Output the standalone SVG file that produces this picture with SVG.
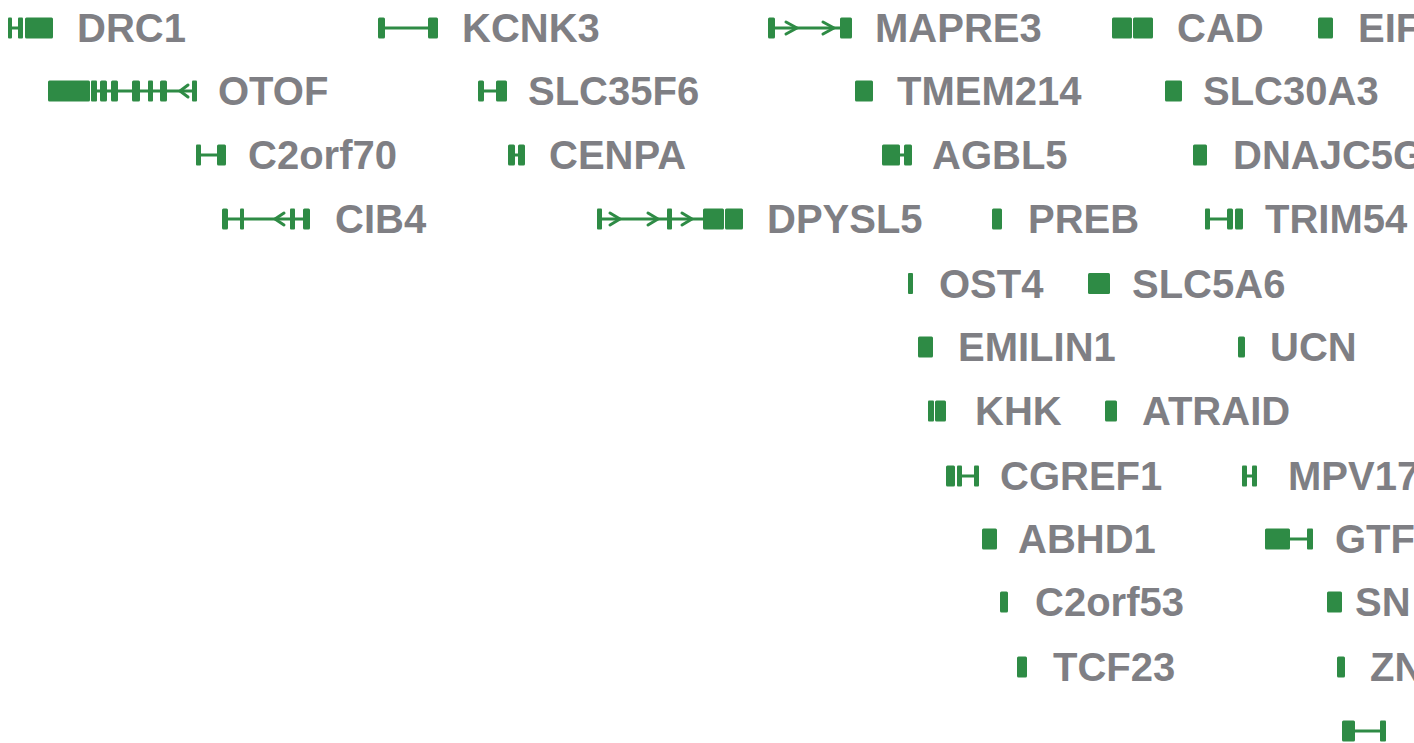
<svg xmlns="http://www.w3.org/2000/svg" width="1414" height="743" viewBox="0 0 1414 743">
<style>
.e{fill:#2e8b45}
.l{stroke:#2e8b45;stroke-width:3;fill:none}
.c{stroke:#2e8b45;stroke-width:3;fill:none;stroke-linecap:round;stroke-linejoin:round}
text{font-family:"Liberation Sans",Arial,sans-serif;font-weight:bold;font-size:40px;fill:#7f7f84}
</style>
<rect width="1414" height="743" fill="#ffffff"/>
<g id="connectors">
<line class="l" x1="11" y1="28" x2="18" y2="28"/>
<line class="l" x1="97" y1="91" x2="192" y2="91"/>
<polyline class="c" points="188,85 180,91 188,97"/>
<line class="l" x1="201" y1="155" x2="217" y2="155"/>
<line class="l" x1="228" y1="219" x2="303" y2="219"/>
<polyline class="c" points="284,213 275,219 284,225"/>
<line class="l" x1="602" y1="219" x2="703" y2="219"/>
<polyline class="c" points="610,213 620,219 610,225"/>
<polyline class="c" points="648,213 658,219 648,225"/>
<polyline class="c" points="682,213 692,219 682,225"/>
<line class="l" x1="385" y1="28" x2="428" y2="28"/>
<line class="l" x1="775" y1="28" x2="840" y2="28"/>
<polyline class="c" points="786,22 797,28 786,34"/>
<polyline class="c" points="823,22 834,28 823,34"/>
<line class="l" x1="484" y1="91" x2="496" y2="91"/>
<line class="l" x1="515" y1="155" x2="518" y2="155"/>
<line class="l" x1="900" y1="155" x2="904" y2="155"/>
<line class="l" x1="1210" y1="219" x2="1227" y2="219"/>
<line class="l" x1="961" y1="476" x2="974" y2="476"/>
<line class="l" x1="1247" y1="476" x2="1252" y2="476"/>
<line class="l" x1="1290" y1="539" x2="1307" y2="539"/>
<line class="l" x1="1355" y1="731" x2="1380" y2="731"/>
</g>
<g id="DRC1">
<rect class="e" x="8" y="17.5" width="4" height="21" rx="1"/>
<rect class="e" x="18" y="17.5" width="5" height="21" rx="1"/>
<rect class="e" x="25" y="17.5" width="28" height="21" rx="1.5"/>
<text x="77" y="42">DRC1</text>
</g>
<g id="KCNK3">
<rect class="e" x="378" y="17.5" width="7" height="21" rx="1.5"/>
<rect class="e" x="428" y="17.5" width="10" height="21" rx="1.5"/>
<text x="462" y="42">KCNK3</text>
</g>
<g id="MAPRE3">
<rect class="e" x="768" y="17.5" width="7" height="21" rx="1.5"/>
<rect class="e" x="840" y="17.5" width="12" height="21" rx="1.5"/>
<text x="875" y="42">MAPRE3</text>
</g>
<g id="CAD">
<rect class="e" x="1112" y="17.5" width="20" height="21" rx="1.5"/>
<rect class="e" x="1133" y="17.5" width="20" height="21" rx="1.5"/>
<text x="1177" y="42">CAD</text>
</g>
<g id="EIF">
<rect class="e" x="1318" y="17.5" width="15" height="21" rx="1.5"/>
<text x="1358" y="42">EIF</text>
</g>
<g id="OTOF">
<rect class="e" x="48" y="80.5" width="42" height="21" rx="1.5"/>
<rect class="e" x="91" y="80.5" width="6" height="21" rx="1"/>
<rect class="e" x="100" y="80.5" width="7" height="21" rx="1.5"/>
<rect class="e" x="111" y="80.5" width="7" height="21" rx="1.5"/>
<rect class="e" x="132" y="80.5" width="8" height="21" rx="1.5"/>
<rect class="e" x="148" y="80.5" width="5" height="21" rx="1"/>
<rect class="e" x="160" y="80.5" width="7" height="21" rx="1.5"/>
<rect class="e" x="192" y="80.5" width="5" height="21" rx="1"/>
<text x="218" y="105">OTOF</text>
</g>
<g id="SLC35F6">
<rect class="e" x="478" y="80.5" width="6" height="21" rx="1.5"/>
<rect class="e" x="496" y="80.5" width="11" height="21" rx="1.5"/>
<text x="528" y="105">SLC35F6</text>
</g>
<g id="TMEM214">
<rect class="e" x="855" y="80.5" width="18" height="21" rx="1.5"/>
<text x="897" y="105">TMEM214</text>
</g>
<g id="SLC30A3">
<rect class="e" x="1165" y="80.5" width="17" height="21" rx="1.5"/>
<text x="1203" y="105">SLC30A3</text>
</g>
<g id="C2orf70">
<rect class="e" x="196" y="144.5" width="5" height="21" rx="1"/>
<rect class="e" x="217" y="144.5" width="9" height="21" rx="1.5"/>
<text x="248" y="169">C2orf70</text>
</g>
<g id="CENPA">
<rect class="e" x="508" y="144.5" width="7" height="21" rx="1.5"/>
<rect class="e" x="518" y="144.5" width="7" height="21" rx="1.5"/>
<text x="549" y="169">CENPA</text>
</g>
<g id="AGBL5">
<rect class="e" x="882" y="144.5" width="18" height="21" rx="1.5"/>
<rect class="e" x="904" y="144.5" width="8" height="21" rx="1.5"/>
<text x="932" y="169">AGBL5</text>
</g>
<g id="DNAJC5G">
<rect class="e" x="1193" y="144.5" width="14" height="21" rx="1.5"/>
<text x="1233" y="169">DNAJC5G</text>
</g>
<g id="CIB4">
<rect class="e" x="222" y="208.5" width="6" height="21" rx="1.5"/>
<rect class="e" x="240" y="208.5" width="4" height="21" rx="1"/>
<rect class="e" x="290" y="208.5" width="5" height="21" rx="1"/>
<rect class="e" x="303" y="208.5" width="7" height="21" rx="1.5"/>
<text x="335" y="233">CIB4</text>
</g>
<g id="DPYSL5">
<rect class="e" x="597" y="208.5" width="5" height="21" rx="1"/>
<rect class="e" x="667" y="208.5" width="5" height="21" rx="1"/>
<rect class="e" x="703" y="208.5" width="21" height="21" rx="1.5"/>
<rect class="e" x="725" y="208.5" width="18" height="21" rx="1.5"/>
<text x="767" y="233">DPYSL5</text>
</g>
<g id="PREB">
<rect class="e" x="992" y="208.5" width="10" height="21" rx="1.5"/>
<text x="1028" y="233">PREB</text>
</g>
<g id="TRIM54">
<rect class="e" x="1205" y="208.5" width="5" height="21" rx="1"/>
<rect class="e" x="1227" y="208.5" width="6" height="21" rx="1.5"/>
<rect class="e" x="1235" y="208.5" width="8" height="21" rx="1.5"/>
<text x="1265" y="233">TRIM54</text>
</g>
<g id="OST4">
<rect class="e" x="908" y="273" width="5" height="21" rx="1"/>
<text x="939" y="298">OST4</text>
</g>
<g id="SLC5A6">
<rect class="e" x="1088" y="273" width="22" height="21" rx="1.5"/>
<text x="1132" y="298">SLC5A6</text>
</g>
<g id="EMILIN1">
<rect class="e" x="918" y="336.5" width="15" height="21" rx="1.5"/>
<text x="958" y="361">EMILIN1</text>
</g>
<g id="UCN">
<rect class="e" x="1238" y="336.5" width="7" height="21" rx="1.5"/>
<text x="1270" y="361">UCN</text>
</g>
<g id="KHK">
<rect class="e" x="928" y="400.5" width="6" height="21" rx="1"/>
<rect class="e" x="935" y="400.5" width="11" height="21" rx="1.5"/>
<text x="975" y="425">KHK</text>
</g>
<g id="ATRAID">
<rect class="e" x="1105" y="400.5" width="12" height="21" rx="1.5"/>
<text x="1142" y="425">ATRAID</text>
</g>
<g id="CGREF1">
<rect class="e" x="946" y="465.5" width="9" height="21" rx="1.5"/>
<rect class="e" x="957" y="465.5" width="5" height="21" rx="1"/>
<rect class="e" x="974" y="465.5" width="5" height="21" rx="1"/>
<text x="1000" y="490">CGREF1</text>
</g>
<g id="MPV17">
<rect class="e" x="1242" y="465.5" width="5" height="21" rx="1"/>
<rect class="e" x="1252" y="465.5" width="5" height="21" rx="1"/>
<text x="1288" y="490">MPV17</text>
</g>
<g id="ABHD1">
<rect class="e" x="982" y="528.5" width="15" height="21" rx="1.5"/>
<text x="1018" y="553">ABHD1</text>
</g>
<g id="GTF">
<rect class="e" x="1265" y="528.5" width="25" height="21" rx="1.5"/>
<rect class="e" x="1307" y="528.5" width="6" height="21" rx="1"/>
<text x="1335" y="553">GTF</text>
</g>
<g id="C2orf53">
<rect class="e" x="1000" y="591.5" width="8" height="21" rx="1.5"/>
<text x="1035" y="616">C2orf53</text>
</g>
<g id="SN">
<rect class="e" x="1327" y="591.5" width="15" height="21" rx="1.5"/>
<text x="1355" y="616">SN</text>
</g>
<g id="TCF23">
<rect class="e" x="1017" y="656.5" width="10" height="21" rx="1.5"/>
<text x="1053" y="681">TCF23</text>
</g>
<g id="ZN">
<rect class="e" x="1337" y="656.5" width="8" height="21" rx="1.5"/>
<text x="1370" y="681">ZN</text>
</g>
<g id="gene12">
<rect class="e" x="1342" y="720.5" width="13" height="21" rx="1.5"/>
<rect class="e" x="1380" y="720.5" width="6" height="21" rx="1"/>
</g>
</svg>
